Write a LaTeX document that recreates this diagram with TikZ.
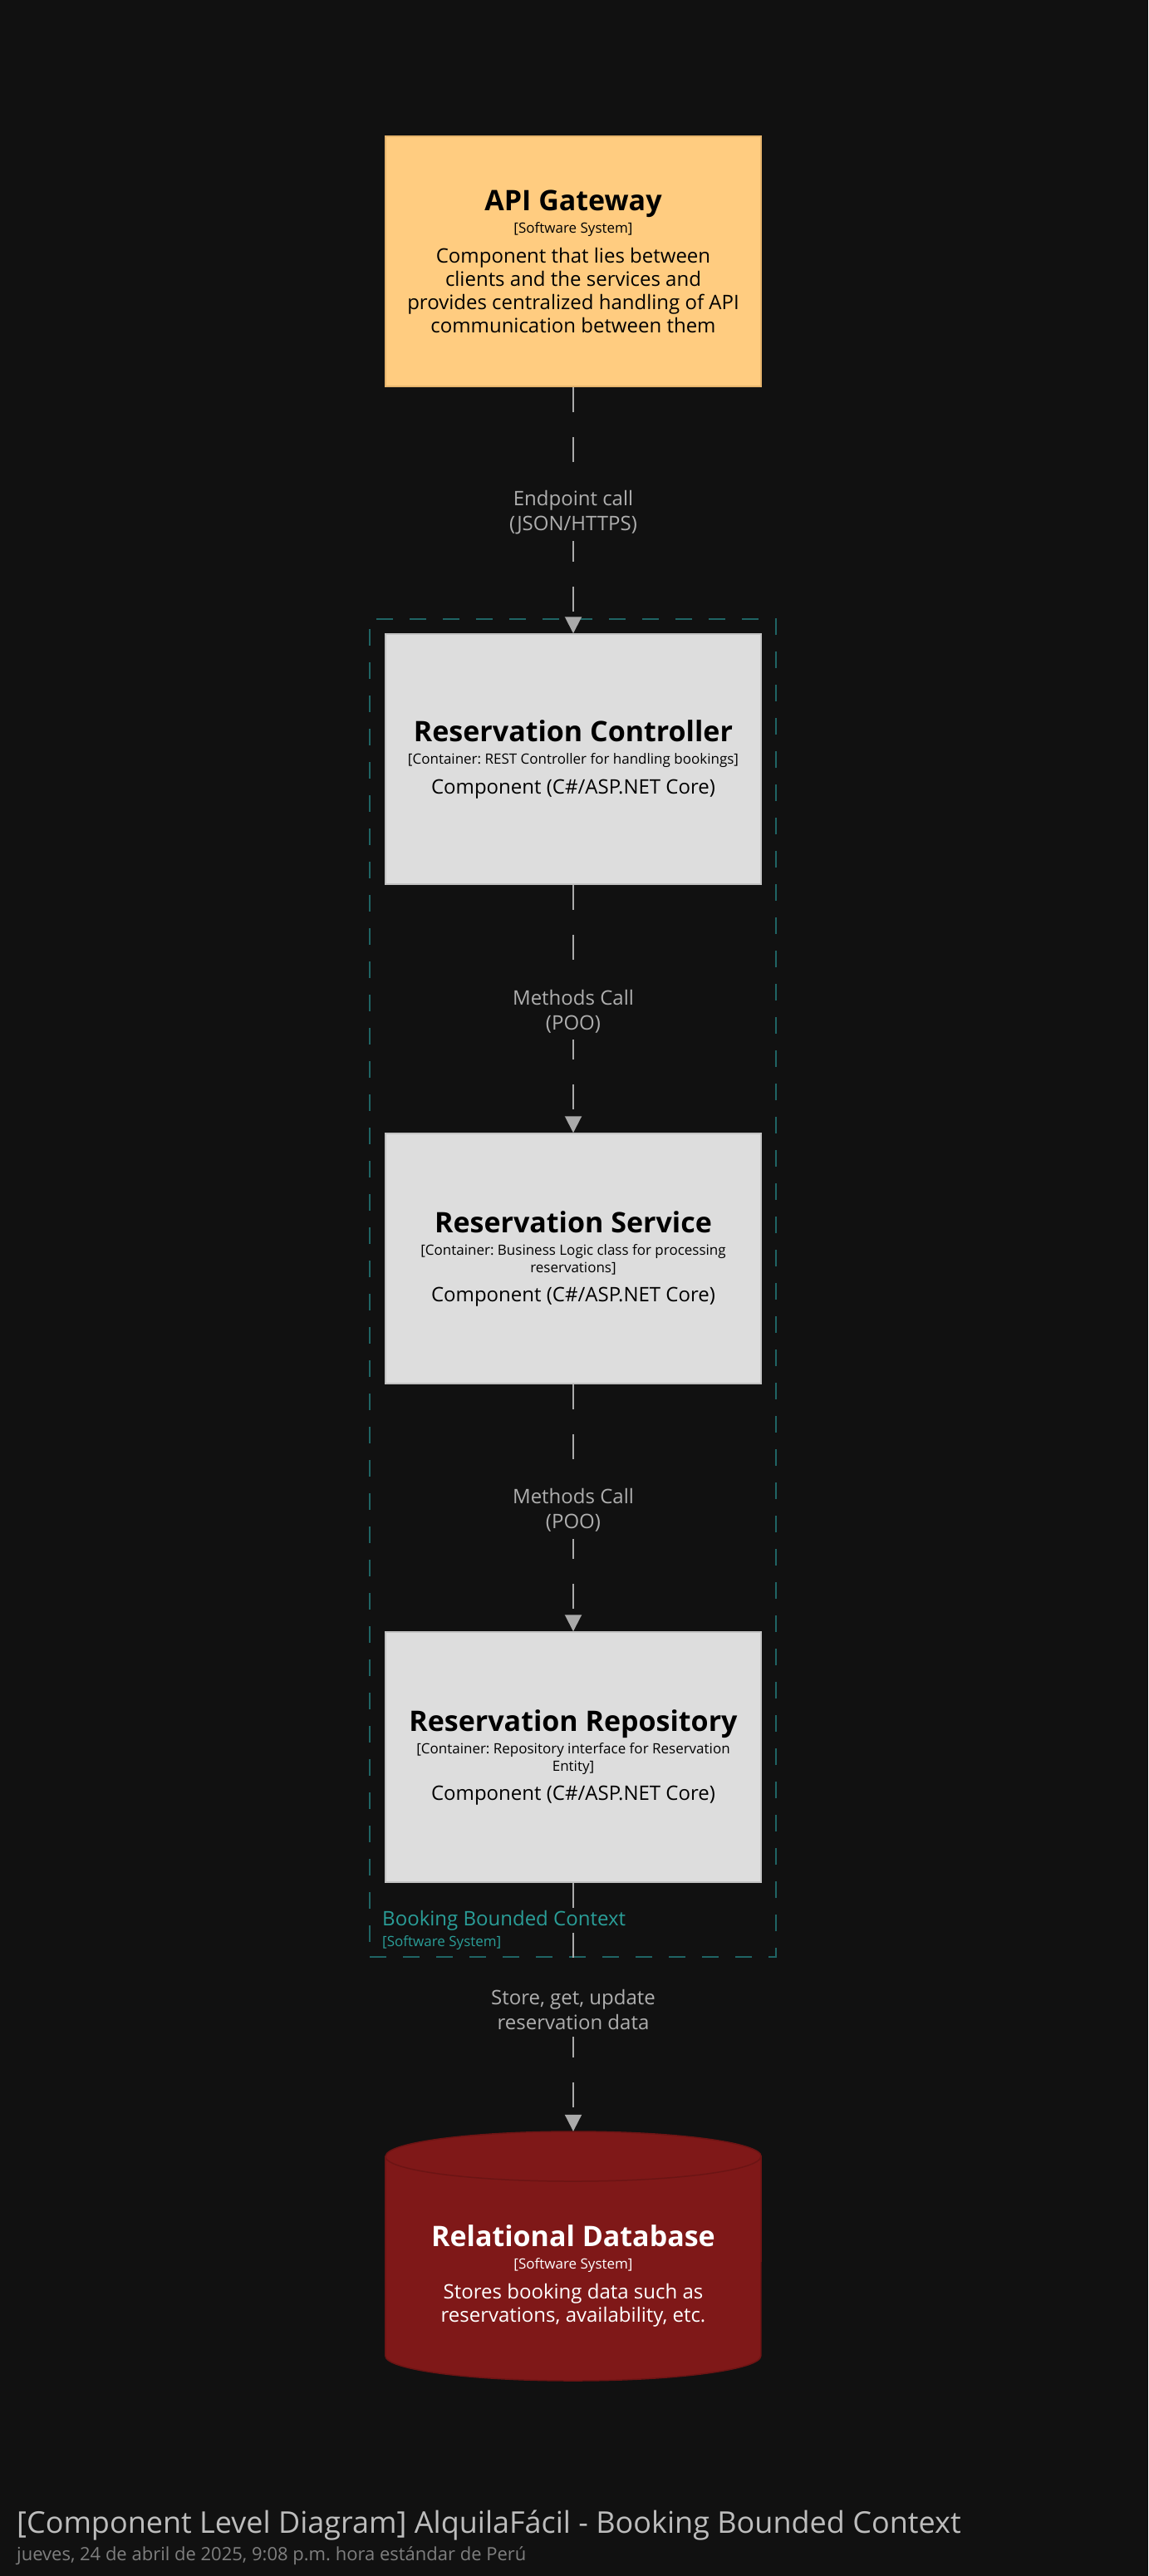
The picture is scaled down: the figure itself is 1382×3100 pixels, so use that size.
\documentclass[tikz,border=0pt]{standalone}
\usepackage{fontspec}
\setmainfont{Open Sans}
\frenchspacing
\usetikzlibrary{arrows.meta}
\definecolor{bg}{HTML}{111111}
\definecolor{apifill}{HTML}{FFCC80}
\definecolor{apiborder}{HTML}{E6B46C}
\definecolor{compfill}{HTML}{DDDDDD}
\definecolor{compborder}{HTML}{C2C2C2}
\definecolor{dbfill}{HTML}{7F1818}
\definecolor{dbborder}{HTML}{6C1414}
\definecolor{edgegray}{HTML}{AAAAAA}
\definecolor{lblgray}{HTML}{AFAFAF}
\definecolor{bndline}{HTML}{1F6464}
\definecolor{bndtext}{HTML}{2A9E98}
\definecolor{titlegray}{HTML}{BDBDBD}
\definecolor{dategray}{HTML}{7F7F7F}
\newcommand\ttlfont{\fontsize{34}{40}\selectfont\bfseries}
\newcommand\stfont{\fontsize{17}{21}\selectfont}
\begin{document}
\begin{tikzpicture}[x=1pt,y=-1pt,
  boxbase/.style={line width=1.5pt, minimum width=452pt, minimum height=301pt,
    align=center, inner sep=0pt, font=\fontsize{24}{28}\selectfont},
  apibox/.style={boxbase, draw=apiborder, fill=apifill, text=black},
  compbox/.style={boxbase, draw=compborder, fill=compfill, text=black},
  dbtext/.style={align=center, inner sep=0pt, font=\fontsize{24}{28}\selectfont, text=white},
  conn/.style={draw=edgegray, line width=2pt, dash pattern=on 30pt off 30pt,
    -{Triangle[width=20pt,length=20pt,fill=edgegray]}},
  lbl/.style={fill=bg, text=lblgray, font=\fontsize{24}{30}\selectfont, align=center,
    inner xsep=2pt, inner ysep=8pt, yshift=-3pt},
  bound/.style={draw=bndline, line width=2pt, dash pattern=on 20pt off 20pt,
    minimum width=489pt, minimum height=1610pt, inner sep=0pt},
  bndlabel/.style={anchor=base west, text=bndtext, inner sep=0pt}
]
\fill[bg] (0,0) rectangle (1382,3100);
\useasboundingbox (0,0) rectangle (1382,3100);

% boundary
\node (bnd) [bound] at (689.5,1550) {};
\node (bndname) [bndlabel, font=\fontsize{24}{28}\selectfont] at (460,2317) {Booking Bounded Context};
\node (bndtype) [bndlabel, font=\stfont] at (460,2342) {[Software System]};

% boxes
\node (api) [apibox] at (690,314.5) {{\ttlfont API Gateway}\\[-1pt] {\stfont [Software System]}\\[8pt]
  Component that lies between\\ clients and the services and\\ provides centralized handling of API\\ communication between them};

\node (ctrl) [compbox] at (690,913.5) {{\ttlfont Reservation Controller}\\[-1pt]
  {\stfont [Container: REST Controller for handling bookings]}\\[8pt]
  Component (C\#/ASP.NET Core)};

\node (svc) [compbox] at (690,1514.5) {{\ttlfont Reservation Service}\\[-1pt]
  {\stfont [Container: Business Logic class for processing}\\[-7pt]
  {\stfont reservations]}\\[7pt]
  Component (C\#/ASP.NET Core)};

\node (repo) [compbox] at (690,2114.5) {{\ttlfont Reservation Repository}\\[-1pt]
  {\stfont [Container: Repository interface for Reservation}\\[-7pt]
  {\stfont Entity]}\\[7pt]
  Component (C\#/ASP.NET Core)};

% database cylinder
\node (db) [minimum width=452pt, minimum height=300pt, inner sep=0pt] at (690,2715) {};
\path[fill=dbfill, draw=dbborder, line width=1.5pt]
  (db.north west |- 0,2595) -- (db.north west |- 0,2835)
  arc[start angle=180, end angle=0, x radius=226, y radius=30]
  -- (db.north east |- 0,2595)
  arc[start angle=0, end angle=-180, x radius=226, y radius=30] -- cycle;
\draw[dbborder, line width=1.5pt] (db.north west |- 0,2595)
  arc[start angle=180, end angle=0, x radius=226, y radius=30];
\node (dbtxt) [dbtext] at (690,2739) {{\ttlfont Relational Database}\\[-1pt]
  {\stfont [Software System]}\\[8pt]
  Stores booking data such as\\ reservations, availability, etc.};

% connectors
\draw[conn] (api.south) -- node[lbl] {Endpoint call\\(JSON/HTTPS)} (ctrl.north);
\draw[conn] (ctrl.south) -- node[lbl] {Methods Call\\(POO)} (svc.north);
\draw[conn] (svc.south) -- node[lbl] {Methods Call\\(POO)} (repo.north);
\draw[conn] (repo.south) -- node[lbl] {Store, get, update\\reservation data} (db.north);

% title
\node (title) [anchor=base west, inner sep=0pt, text=titlegray, font=\fontsize{36}{42}\selectfont] at (20,3048)
  {[Component Level Diagram] AlquilaFácil - Booking Bounded Context};
\node (date) [anchor=base west, inner sep=0pt, text=dategray, font=\fontsize{22}{26}\selectfont] at (20,3081)
  {jueves, 24 de abril de 2025, 9:08 p.m. hora estándar de Perú};
\end{tikzpicture}
\end{document}
